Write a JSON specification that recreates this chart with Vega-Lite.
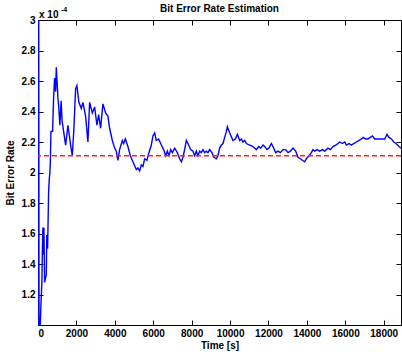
{
  "$schema": "https://vega.github.io/schema/vega-lite/v6.json",
  "width": 363,
  "height": 305,
  "autosize": "none",
  "padding": {"left": 38, "top": 20, "right": 1, "bottom": 27},
  "background": "white",
  "title": {"text": "Bit Error Rate Estimation", "font": "Liberation Sans", "fontSize": 10, "fontWeight": "bold", "color": "black", "offset": -8, "anchor": "middle"},
  "config": {
    "view": {"stroke": "black", "strokeWidth": 1},
    "axis": {"grid": false, "domainColor": "black", "tickColor": "black", "labelColor": "black", "labelFont": "Liberation Sans", "labelFontSize": 10, "labelFontWeight": "bold", "titleFont": "Liberation Sans", "titleFontSize": 10, "titleFontWeight": "bold", "titleColor": "black", "tickSize": -5, "labelPadding": 8}
  },
  "datasets": {
    "ber": [
      {"t": 5, "v": 0.5}, {"t": 31, "v": 4.0}, {"t": 57, "v": 0.5},
      {"t": 120, "v": 1.0}, {"t": 151, "v": 1.13}, {"t": 203, "v": 1.28}, {"t": 229, "v": 1.5}, {"t": 255, "v": 1.64}, {"t": 281, "v": 1.46}, {"t": 307, "v": 1.64}, {"t": 344, "v": 1.28}, {"t": 432, "v": 1.33}, {"t": 458, "v": 1.59}, {"t": 500, "v": 1.5}, {"t": 552, "v": 1.87}, {"t": 589, "v": 1.96}, {"t": 620, "v": 2.0}, {"t": 646, "v": 2.08}, {"t": 672, "v": 2.27}, {"t": 760, "v": 2.27}, {"t": 812, "v": 2.49}, {"t": 865, "v": 2.62}, {"t": 917, "v": 2.53}, {"t": 953, "v": 2.69}, {"t": 1021, "v": 2.53}, {"t": 1036, "v": 2.49}, {"t": 1073, "v": 2.44}, {"t": 1141, "v": 2.31}, {"t": 1203, "v": 2.47}, {"t": 1255, "v": 2.34}, {"t": 1333, "v": 2.27}, {"t": 1438, "v": 2.18}, {"t": 1505, "v": 2.25}, {"t": 1557, "v": 2.31}, {"t": 1646, "v": 2.23}, {"t": 1698, "v": 2.18}, {"t": 1786, "v": 2.11}, {"t": 1870, "v": 2.29}, {"t": 1958, "v": 2.55}, {"t": 2026, "v": 2.57}, {"t": 2130, "v": 2.46}, {"t": 2255, "v": 2.42}, {"t": 2339, "v": 2.46}, {"t": 2479, "v": 2.37}, {"t": 2599, "v": 2.2}, {"t": 2688, "v": 2.46}, {"t": 2828, "v": 2.39}, {"t": 2948, "v": 2.43}, {"t": 3068, "v": 2.31}, {"t": 3156, "v": 2.38}, {"t": 3260, "v": 2.29}, {"t": 3380, "v": 2.45}, {"t": 3521, "v": 2.39}, {"t": 3641, "v": 2.37}, {"t": 3729, "v": 2.29}, {"t": 3870, "v": 2.21}, {"t": 3990, "v": 2.16}, {"t": 4078, "v": 2.14}, {"t": 4161, "v": 2.08}, {"t": 4250, "v": 2.15}, {"t": 4391, "v": 2.21}, {"t": 4458, "v": 2.19}, {"t": 4547, "v": 2.22}, {"t": 4682, "v": 2.17}, {"t": 4807, "v": 2.11}, {"t": 4943, "v": 2.07}, {"t": 5120, "v": 2.02}, {"t": 5203, "v": 2.03}, {"t": 5292, "v": 2.01}, {"t": 5380, "v": 2.05}, {"t": 5464, "v": 2.04}, {"t": 5552, "v": 2.09}, {"t": 5672, "v": 2.08}, {"t": 5776, "v": 2.13}, {"t": 5901, "v": 2.18}, {"t": 5984, "v": 2.24}, {"t": 6073, "v": 2.26}, {"t": 6161, "v": 2.21}, {"t": 6281, "v": 2.22}, {"t": 6422, "v": 2.18}, {"t": 6542, "v": 2.15}, {"t": 6646, "v": 2.11}, {"t": 6734, "v": 2.14}, {"t": 6818, "v": 2.11}, {"t": 6906, "v": 2.15}, {"t": 6995, "v": 2.13}, {"t": 7115, "v": 2.16}, {"t": 7255, "v": 2.13}, {"t": 7375, "v": 2.09}, {"t": 7464, "v": 2.07}, {"t": 7547, "v": 2.1}, {"t": 7635, "v": 2.15}, {"t": 7724, "v": 2.21}, {"t": 7844, "v": 2.18}, {"t": 7948, "v": 2.15}, {"t": 8068, "v": 2.14}, {"t": 8156, "v": 2.11}, {"t": 8245, "v": 2.14}, {"t": 8328, "v": 2.11}, {"t": 8417, "v": 2.14}, {"t": 8505, "v": 2.13}, {"t": 8589, "v": 2.15}, {"t": 8677, "v": 2.13}, {"t": 8766, "v": 2.14}, {"t": 8849, "v": 2.13}, {"t": 8938, "v": 2.15}, {"t": 9057, "v": 2.13}, {"t": 9161, "v": 2.1}, {"t": 9286, "v": 2.09}, {"t": 9370, "v": 2.11}, {"t": 9458, "v": 2.16}, {"t": 9547, "v": 2.18}, {"t": 9630, "v": 2.19}, {"t": 9719, "v": 2.23}, {"t": 9807, "v": 2.27}, {"t": 9859, "v": 2.3}, {"t": 9979, "v": 2.26}, {"t": 10151, "v": 2.21}, {"t": 10276, "v": 2.22}, {"t": 10380, "v": 2.25}, {"t": 10500, "v": 2.21}, {"t": 10589, "v": 2.22}, {"t": 10672, "v": 2.2}, {"t": 10760, "v": 2.21}, {"t": 10849, "v": 2.19}, {"t": 11021, "v": 2.18}, {"t": 11193, "v": 2.17}, {"t": 11370, "v": 2.15}, {"t": 11490, "v": 2.17}, {"t": 11594, "v": 2.16}, {"t": 11714, "v": 2.18}, {"t": 11802, "v": 2.17}, {"t": 11922, "v": 2.15}, {"t": 12026, "v": 2.16}, {"t": 12151, "v": 2.19}, {"t": 12271, "v": 2.16}, {"t": 12375, "v": 2.13}, {"t": 12495, "v": 2.14}, {"t": 12620, "v": 2.13}, {"t": 12755, "v": 2.15}, {"t": 12896, "v": 2.15}, {"t": 13016, "v": 2.13}, {"t": 13141, "v": 2.14}, {"t": 13276, "v": 2.16}, {"t": 13417, "v": 2.14}, {"t": 13536, "v": 2.1}, {"t": 13661, "v": 2.09}, {"t": 13766, "v": 2.08}, {"t": 13885, "v": 2.07}, {"t": 13974, "v": 2.09}, {"t": 14109, "v": 2.11}, {"t": 14234, "v": 2.13}, {"t": 14318, "v": 2.15}, {"t": 14406, "v": 2.14}, {"t": 14526, "v": 2.15}, {"t": 14667, "v": 2.14}, {"t": 14807, "v": 2.15}, {"t": 14927, "v": 2.14}, {"t": 15016, "v": 2.15}, {"t": 15099, "v": 2.16}, {"t": 15224, "v": 2.15}, {"t": 15359, "v": 2.17}, {"t": 15500, "v": 2.18}, {"t": 15620, "v": 2.19}, {"t": 15708, "v": 2.2}, {"t": 15849, "v": 2.19}, {"t": 15969, "v": 2.2}, {"t": 16057, "v": 2.18}, {"t": 16193, "v": 2.19}, {"t": 16318, "v": 2.18}, {"t": 16438, "v": 2.19}, {"t": 16578, "v": 2.2}, {"t": 16714, "v": 2.21}, {"t": 16839, "v": 2.22}, {"t": 16922, "v": 2.23}, {"t": 17062, "v": 2.22}, {"t": 17182, "v": 2.22}, {"t": 17307, "v": 2.23}, {"t": 17411, "v": 2.24}, {"t": 17531, "v": 2.22}, {"t": 17651, "v": 2.22}, {"t": 17792, "v": 2.22}, {"t": 17932, "v": 2.22}, {"t": 18052, "v": 2.22}, {"t": 18172, "v": 2.25}, {"t": 18276, "v": 2.23}, {"t": 18401, "v": 2.22}, {"t": 18521, "v": 2.2}, {"t": 18641, "v": 2.19}, {"t": 18797, "v": 2.17}, {"t": 18900, "v": 2.16}
    ],
    "ref": [{"level": 2.11}],
    "notes": [
      {"t": 0, "v": 3, "main": "x 10", "sup": "-4"}
    ]
  },
  "layer": [
    {
      "data": {"name": "ber"},
      "mark": {"type": "line", "color": "#0000ff", "strokeWidth": 1.4, "clip": true},
      "encoding": {
        "x": {"field": "t", "type": "quantitative", "scale": {"domain": [0, 18900], "nice": false, "zero": false},
          "axis": {"title": "Time [s]", "values": [0, 2000, 4000, 6000, 8000, 10000, 12000, 14000, 16000, 18000], "format": "d", "titlePadding": 2}},
        "y": {"field": "v", "type": "quantitative", "scale": {"domain": [1, 3], "nice": false, "zero": false},
          "axis": {"title": "Bit Error Rate", "values": [1.2, 1.4, 1.6, 1.8, 2, 2.2, 2.4, 2.6, 2.8, 3], "format": ".1~f", "titlePadding": 6}}
      }
    },
    {
      "data": {"name": "ref"},
      "mark": {"type": "rule", "color": "#ff2020", "strokeWidth": 1.6, "strokeDash": [5, 3]},
      "encoding": {
        "y": {"field": "level", "type": "quantitative", "axis": null}
      }
    },
    {
      "data": {"name": "ber"},
      "mark": {"type": "line", "opacity": 0, "clip": true},
      "encoding": {
        "x": {"field": "t", "type": "quantitative",
          "axis": {"orient": "top", "title": null, "labels": false, "labelPadding": 0, "values": [0, 2000, 4000, 6000, 8000, 10000, 12000, 14000, 16000, 18000]}},
        "y": {"field": "v", "type": "quantitative",
          "axis": {"orient": "right", "title": null, "labels": false, "labelPadding": 0, "values": [1.2, 1.4, 1.6, 1.8, 2, 2.2, 2.4, 2.6, 2.8, 3]}}
      }
    },
    {
      "data": {"name": "notes"},
      "mark": {"type": "text", "align": "left", "baseline": "alphabetic", "dx": 1, "dy": -2, "font": "Liberation Sans", "fontSize": 10, "fontWeight": "bold", "color": "black"},
      "encoding": {
        "x": {"field": "t", "type": "quantitative", "axis": null},
        "y": {"field": "v", "type": "quantitative", "axis": null},
        "text": {"field": "main"}
      }
    },
    {
      "data": {"name": "notes"},
      "mark": {"type": "text", "align": "left", "baseline": "alphabetic", "dx": 23, "dy": -8, "font": "Liberation Sans", "fontSize": 7, "fontWeight": "bold", "color": "black"},
      "encoding": {
        "x": {"field": "t", "type": "quantitative", "axis": null},
        "y": {"field": "v", "type": "quantitative", "axis": null},
        "text": {"field": "sup"}
      }
    }
  ],
  "resolve": {"axis": {"x": "independent", "y": "independent"}}
}
